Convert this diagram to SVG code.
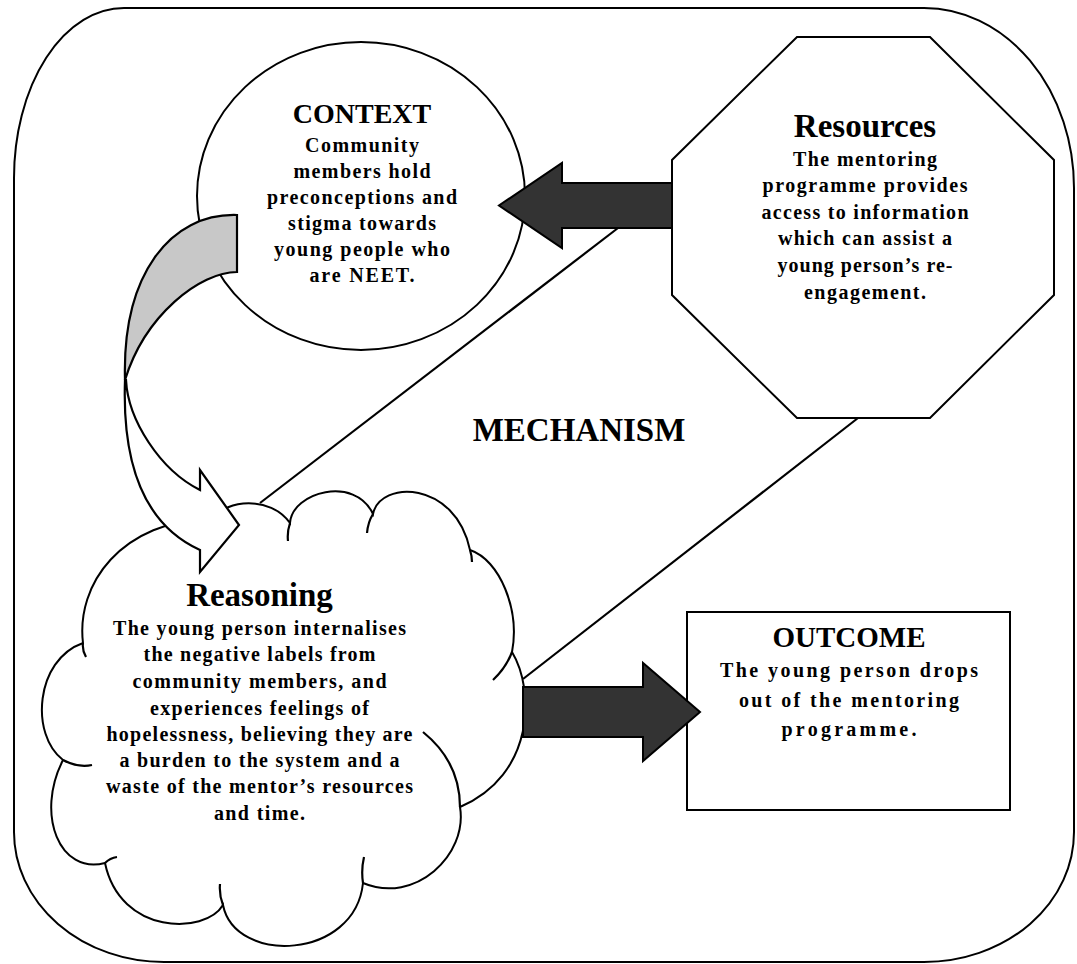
<svg xmlns="http://www.w3.org/2000/svg" width="1077" height="964" viewBox="0 0 1077 964">
<style>
.s{fill:#fff;stroke:#000;stroke-width:2;stroke-linejoin:miter}
.ln{fill:none;stroke:#000;stroke-width:2.2}
.dk{fill:#333;stroke:#000;stroke-width:2}
.gr{fill:#c8c8c8;stroke:#000;stroke-width:2.2}
.wh{fill:#fff;stroke:#000;stroke-width:2.2}
text{font-family:"Liberation Serif","Times New Roman",serif;font-weight:bold;fill:#000;text-anchor:middle}
.t{font-size:28px}
.T{font-size:33px}
.b{font-size:20px}
</style>
<rect width="1077" height="964" fill="#fff"/>
<path id="frame" class="s" d="M124,8 H924 A150 180 0 0 1 1074,188 V832 A150 130 0 0 1 924,962 H164 A150 130 0 0 1 14,832 V178 A110 170 0 0 1 124,8 Z"/>

<g id="context">
<ellipse class="s" cx="361" cy="196" rx="164" ry="154"/>
<text class="t" x="362" y="123">CONTEXT</text>
<text class="b" x="362" y="152" textLength="114">Community</text>
<text class="b" x="362" y="178" textLength="137">members hold</text>
<text class="b" x="362" y="204" textLength="190">preconceptions and</text>
<text class="b" x="362" y="230" textLength="148">stigma towards</text>
<text class="b" x="362" y="256" textLength="176">young people who</text>
<text class="b" x="362" y="282" textLength="105">are NEET.</text>
</g>

<g id="resources">
<polygon class="s" points="797,37 930,37 1054,160 1054,295 930,418 797,418 672,295 672,160"/>
<text class="T" x="865" y="137">Resources</text>
<text class="b" x="865" y="166" textLength="144">The mentoring</text>
<text class="b" x="865" y="192" textLength="205">programme provides</text>
<text class="b" x="865" y="219" textLength="207">access to information</text>
<text class="b" x="865" y="245" textLength="174">which can assist a</text>
<text class="b" x="865" y="272" textLength="175">young person’s re-</text>
<text class="b" x="865" y="299" textLength="122">engagement.</text>
</g>

<g id="outcome">
<rect class="s" x="687" y="612" width="323" height="198"/>
<text class="t" x="849" y="647" style="font-size:29px">OUTCOME</text>
<text class="b" x="849" y="677" textLength="258">The young person drops</text>
<text class="b" x="849" y="707" textLength="220">out of the mentoring</text>
<text class="b" x="849" y="736" textLength="135">programme.</text>
</g>

<g id="reasoning">
<path class="s" d="M83,643 C76,585 120,520 215,518 C225,500 270,495 290,523 C292,492 355,475 373,514 C380,480 455,480 470,550 C500,560 520,610 512,652 C535,690 535,775 460,807 C468,855 415,905 363,883 C355,960 235,965 223,905 C205,935 120,935 105,863 C60,875 35,815 63,760 C30,735 35,660 83,643 Z"/>
<path class="ln" d="M83,643 Q82,650 86,657 M290,523 Q287,532 288,541 M373,514 Q368,522 367,533 M470,550 Q472,556 472,562 M512,652 Q506,668 493,680 M460,807 Q460,762 423,732 M363,883 Q361,870 364,857 M223,905 Q219,895 220,884 M105,863 Q110,858 117,857 M63,760 Q78,768 92,765"/>
<text class="T" x="259.5" y="606">Reasoning</text>
<text class="b" x="259.5" y="635" textLength="293">The young person internalises</text>
<text class="b" x="259.5" y="661" textLength="232">the negative labels from</text>
<text class="b" x="259.5" y="688" textLength="254">community members, and</text>
<text class="b" x="259.5" y="715" textLength="219">experiences feelings of</text>
<text class="b" x="259.5" y="741" textLength="306">hopelessness, believing they are</text>
<text class="b" x="259.5" y="767" textLength="280">a burden to the system and a</text>
<text class="b" x="259.5" y="793" textLength="307">waste of the mentor’s resources</text>
<text class="b" x="259.5" y="820" textLength="91">and time.</text>
</g>

<g id="mechanism">
<text class="T" x="579" y="441">MECHANISM</text>
</g>

<g id="connectors">
<line class="ln" x1="260" y1="503" x2="618" y2="228"/>
<line class="ln" x1="523" y1="679" x2="858" y2="418"/>
<polygon class="dk" points="672,183 562,183 562,163 499,205.5 562,248 562,228 672,228"/>
<polygon class="dk" points="523,687 643,687 643,663 700,712 643,761 643,737 523,737"/>
<path class="gr" d="M237,215 C170,213 122,275 125,380 C145,315 200,272 237,272 Z"/>
<path class="wh" d="M125,380 C122,465 145,525 200,550 L200,572 L239,525 L200,470 L200,490 C160,470 128,420 126,380 Z"/>
</g>
</svg>
